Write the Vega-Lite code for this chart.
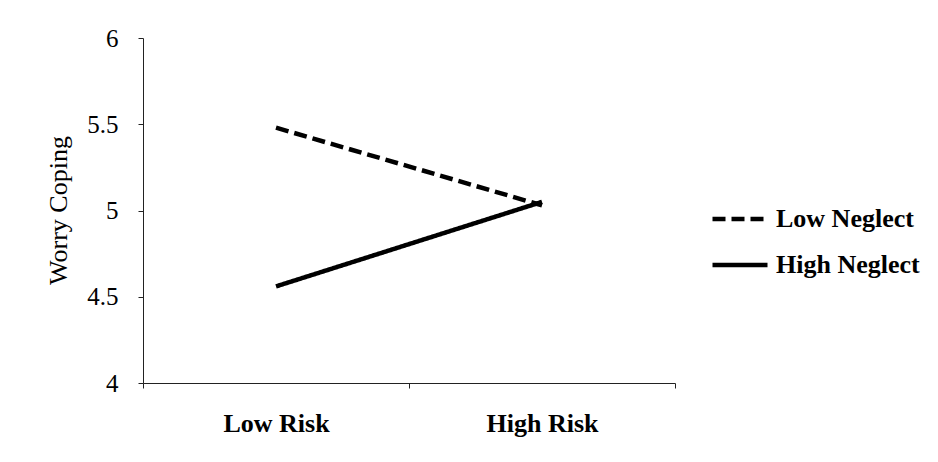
{
  "$schema": "https://vega.github.io/schema/vega-lite/v6.json",
  "autosize": {"type": "none"},
  "width": 532,
  "height": 345,
  "padding": {"left": 143, "top": 38, "right": 263, "bottom": 79},
  "background": "white",
  "data": {
    "values": [
      {"risk": "Low Risk", "neglect": "Low Neglect", "coping": 5.48},
      {"risk": "High Risk", "neglect": "Low Neglect", "coping": 5.03},
      {"risk": "Low Risk", "neglect": "High Neglect", "coping": 4.56},
      {"risk": "High Risk", "neglect": "High Neglect", "coping": 5.05}
    ]
  },
  "mark": {"type": "line", "strokeWidth": 4.5, "color": "black", "strokeCap": "butt"},
  "encoding": {
    "x": {
      "field": "risk",
      "type": "nominal",
      "sort": ["Low Risk", "High Risk"],
      "scale": {"type": "band", "paddingInner": 0, "paddingOuter": 0},
      "axis": {
        "title": null,
        "labelAngle": 0,
        "tickBand": "extent",
        "tickSize": 5,
        "labelPadding": 22,
        "labelFont": "Liberation Serif",
        "labelFontWeight": "bold",
        "labelFontSize": 26,
        "labelColor": "black",
        "domainColor": "#222",
        "tickColor": "#222"
      }
    },
    "y": {
      "field": "coping",
      "type": "quantitative",
      "scale": {"domain": [4, 6], "nice": false, "zero": false},
      "axis": {
        "title": "Worry Coping",
        "values": [4, 4.5, 5, 5.5, 6],
        "format": "~g",
        "grid": false,
        "tickSize": 5,
        "labelPadding": 20,
        "labelFont": "Liberation Serif",
        "labelFontSize": 25,
        "labelColor": "black",
        "titleFont": "Liberation Serif",
        "titleFontSize": 26,
        "titleFontWeight": "normal",
        "titleColor": "black",
        "titleX": -85,
        "titleY": 172,
        "titleAngle": -90,
        "titleBaseline": "middle",
        "titleAlign": "center",
        "domainColor": "#222",
        "tickColor": "#222"
      }
    },
    "strokeDash": {
      "field": "neglect",
      "type": "nominal",
      "scale": {"domain": ["Low Neglect", "High Neglect"], "range": [[13, 6], [1, 0]]},
      "legend": {
        "title": null,
        "orient": "none",
        "legendX": 567,
        "legendY": 151,
        "symbolType": "stroke",
        "symbolSize": 3025,
        "symbolStrokeWidth": 4.5,
        "symbolStrokeColor": "black",
        "labelFont": "Liberation Serif",
        "labelFontSize": 26,
        "labelFontWeight": "bold",
        "labelColor": "black",
        "labelOffset": 6,
        "rowPadding": 3
      }
    }
  },
  "config": {"view": {"stroke": null}}
}
